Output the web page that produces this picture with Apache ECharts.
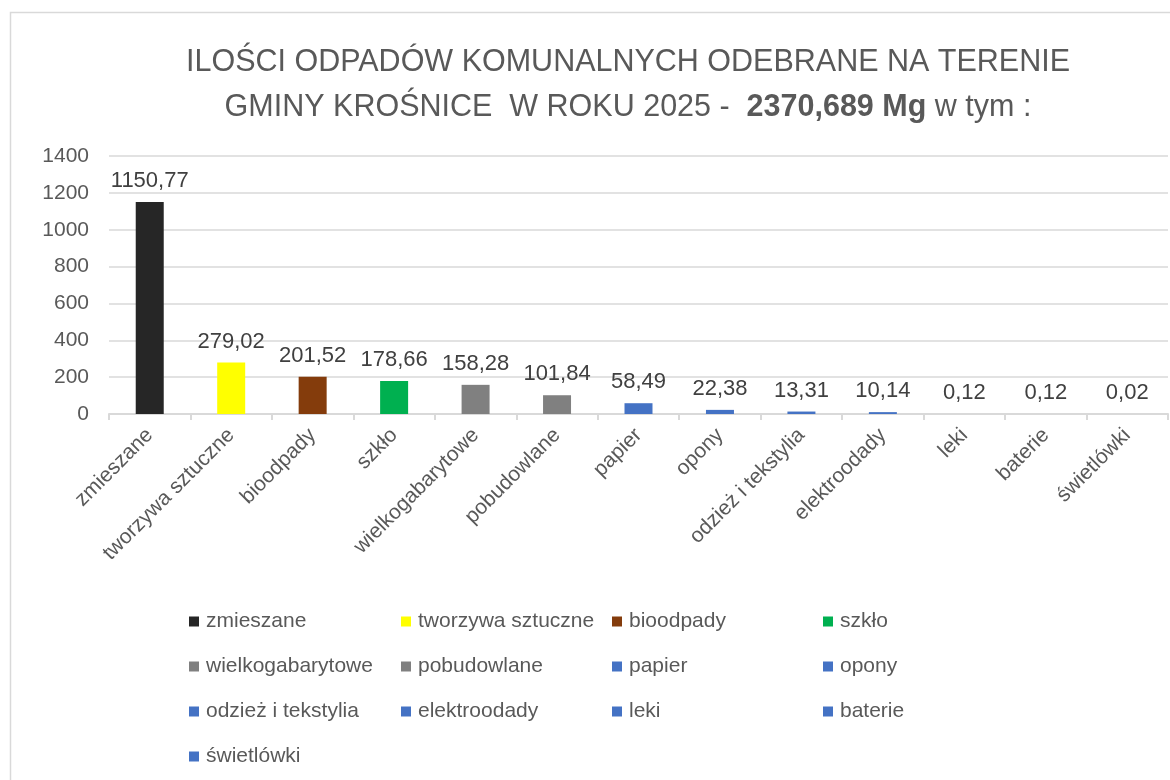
<!DOCTYPE html>
<html><head><meta charset="utf-8">
<script src="https://cdn.jsdelivr.net/npm/echarts@6/dist/echarts.min.js"></script>
<style>html,body{margin:0;padding:0;background:#fff}#c{width:1170px;height:780px}</style>
</head><body><div id="c"></div>
<script>
const categories = ['zmieszane','tworzywa sztuczne','bioodpady','szkło','wielkogabarytowe','pobudowlane','papier','opony','odzież i tekstylia','elektroodady','leki','baterie','świetlówki'];
const values = [1150.77, 279.02, 201.52, 178.66, 158.28, 101.84, 58.49, 22.38, 13.31, 10.14, 0.12, 0.12, 0.02];
const colors = ['#262626','#ffff00','#843c0c','#00b050','#808080','#808080','#4472c4','#4472c4','#4472c4','#4472c4','#4472c4','#4472c4','#4472c4'];
const yTicks = {min:0, max:1400, interval:200};

const FONT = 'Liberation Sans';
const TXT = '#595959';

const series = categories.map((name, i) => ({
  name: name,
  type: 'bar',
  barWidth: 28,
  barGap: '-100%',
  color: colors[i],
  itemStyle: {color: colors[i]},
  data: categories.map((c, j) => j === i ? values[i] : null),
  label: {
    show: true, position: 'top', distance: 10,
    color: '#404040', fontFamily: FONT, fontSize: 22,
    formatter: p => p.value == null ? '' : Number(p.value).toFixed(2).replace('.', ',')
  }
}));

const cols = [[],[],[],[]];
categories.forEach((c, i) => cols[i % 4].push(c));
const colLeft = [184, 396, 607, 818];
const legends = cols.map((d, k) => ({
  data: d, orient: 'vertical', left: colLeft[k], top: 604,
  icon: 'rect', itemWidth: 10, itemHeight: 10, itemGap: 20,
  textStyle: {color: TXT, fontFamily: FONT, fontSize: 21, lineHeight: 25, padding: [0,0,0,2]},
  selectedMode: false
}));

const chart = echarts.init(document.getElementById('c'), null, {renderer: 'canvas'});
chart.setOption({
  animation: false,
  backgroundColor: '#fff',
  graphic: [{type: 'rect', shape: {x: 10.5, y: 12.5, width: 1200, height: 800}, style: {fill: 'none', stroke: '#d9d9d9', lineWidth: 1.5}, silent: true, z: -1}],
  title: {
    left: 623, top: 35, textAlign: 'center',
    text: '{n|ILOŚCI ODPADÓW KOMUNALNYCH ODEBRANE NA TERENIE}\n{n|GMINY KROŚNICE  W ROKU 2025 -  }{b|2370,689 Mg}{n| w tym :}',
    textStyle: {
      fontWeight: 'normal',
      rich: {
        n: {fontFamily: FONT, fontSize: 30.5, color: TXT, lineHeight: 45, fontWeight: 'normal'},
        b: {fontFamily: FONT, fontSize: 30.5, color: TXT, fontWeight: 'bold', lineHeight: 45}
      }
    }
  },
  legend: legends,
  grid: {left: 109, right: 2, top: 156, bottom: 366, containLabel: false},
  xAxis: {
    type: 'category', data: categories,
    axisLine: {lineStyle: {color: '#d9d9d9', width: 2}},
    axisTick: {show: true, length: 6, lineStyle: {color: '#d9d9d9', width: 2}},
    axisLabel: {rotate: 45, color: TXT, fontFamily: FONT, fontSize: 21, margin: 18, interval: 0}
  },
  yAxis: {
    type: 'value', min: yTicks.min, max: yTicks.max, interval: yTicks.interval,
    axisLine: {show: false}, axisTick: {show: false},
    axisLabel: {color: TXT, fontFamily: FONT, fontSize: 21, margin: 20, formatter: v => String(v)},
    splitLine: {lineStyle: {color: '#d9d9d9', width: 1.5}}
  },
  series: series
});
</script></body></html>
